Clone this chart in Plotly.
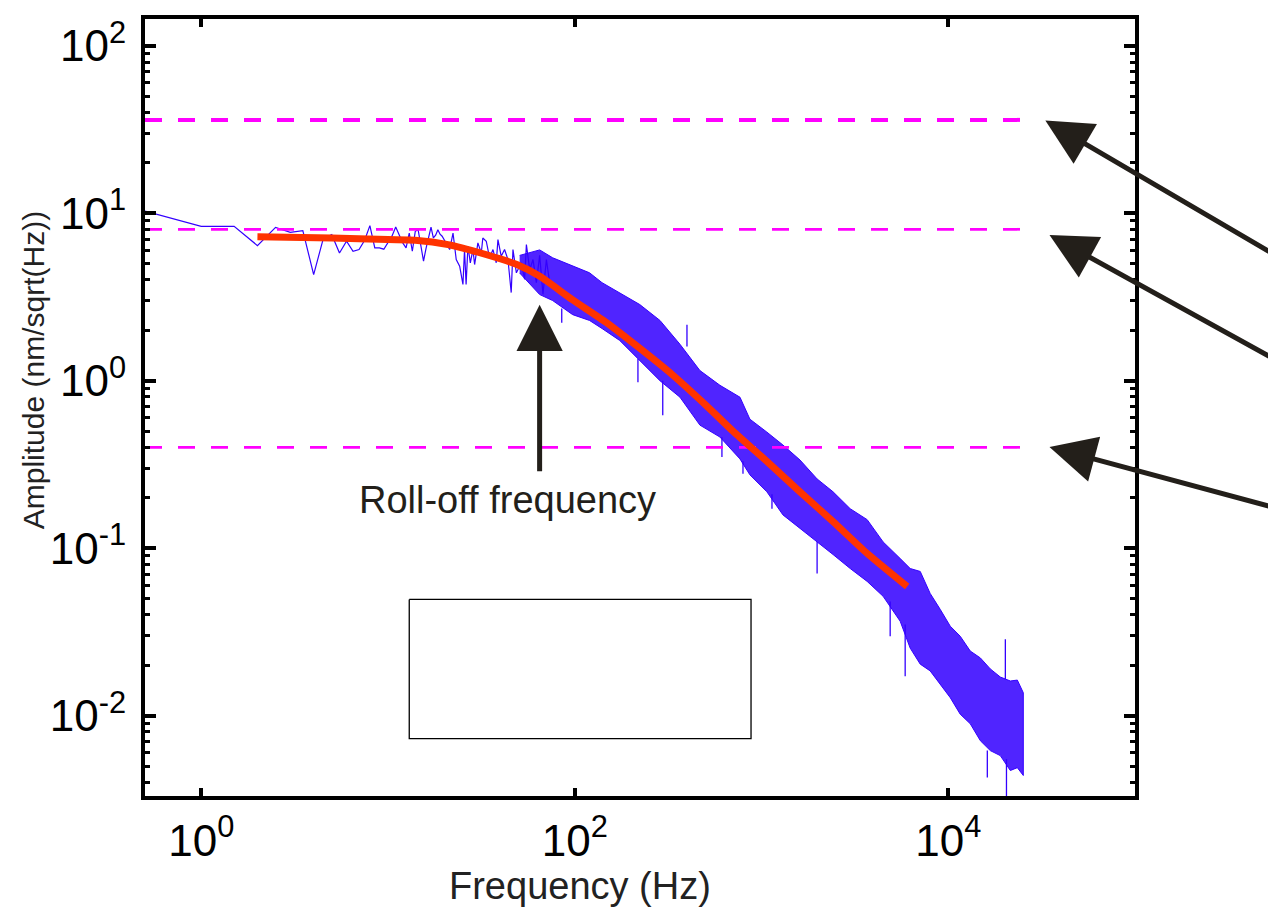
import plotly.graph_objects as go

# ---------------- data ----------------
# resolved low-frequency part of the measured amplitude spectrum
spec_f = [0.5, 1.0, 1.5, 2.0, 2.5, 3.0, 3.5, 4.0, 4.5, 5.0, 5.5, 6.0, 6.5, 7.0, 7.5, 8.0, 8.5, 9.0, 9.5, 10.0,
          10.5, 11.0, 11.5, 12.0, 12.5, 13.0, 13.5, 14.0, 14.5, 15.0, 15.5, 16.0, 16.5, 17.0, 17.5, 18.0, 18.5, 19.0, 19.5,
          20.5, 21.4, 22.3, 23.2, 24.2, 25.2, 25.7, 26.2, 26.8, 27.6, 28.5, 29.1, 30.3, 31.6, 32.2, 33.6, 35.0, 36.5,
          38.0, 38.8, 40.4, 42.1, 43.9, 45.7, 46.7, 48.7, 51.8, 53.9, 55.1, 57.4, 59.8, 62.3, 64.9, 67.6, 70.5, 73.4]
spec_amp = [10.3, 8.36, 8.36, 6.41, 8.24, 7.69, 7.88, 4.30, 7.03, 7.45, 5.79, 6.81, 5.93, 6.07, 6.90, 8.43, 6.21, 6.21, 6.10, 6.65,
            7.3, 8.27, 7.4, 6.65, 6.21, 7.62, 5.93, 7.8, 7.98, 6.36, 5.18, 6.2, 7.29, 8.27, 7.12, 7.4, 7.98, 7.5, 7.29,
            6.65, 6.07, 7.62, 5.29, 4.83, 3.76, 6.07, 3.76, 6.36, 5.06, 6.07, 4.94, 6.65, 5.79, 7.12, 6.81, 5.42, 6.07,
            5.06, 6.96, 5.54, 6.07, 5.29, 3.36, 6.07, 4.41, 5.06, 4.03, 6.5, 4.6, 5.29, 3.85, 5.6, 3.28, 5.29, 3.85]

# dense part of the spectrum: upper / lower envelope of the noise band
band_f = [50.7, 64.9, 76.2, 97.5, 120, 140, 174, 223, 286, 366, 468, 599, 767, 867, 1069, 1303, 1608,
          1985, 2417, 2985, 3680, 4479, 5530, 6256, 7079, 8000, 9057, 10250, 11590, 13120, 14860, 16800,
          19000, 21500, 23440, 25230]
band_hi = [5.6, 6.04, 5.42, 4.85, 4.41, 3.85, 3.35, 2.85, 2.29, 1.65, 1.15, 0.939, 0.797, 0.589, 0.493,
           0.413, 0.336, 0.259, 0.217, 0.172, 0.148, 0.109, 0.0867, 0.0756, 0.0726, 0.0537, 0.0431, 0.0342,
           0.0298, 0.0243, 0.0221, 0.0190, 0.0170, 0.0161, 0.0163, 0.0137]
band_lo = [4.4, 3.27, 3.01, 2.48, 2.29, 2.05, 1.74, 1.32, 1.0, 0.797, 0.543, 0.461, 0.341, 0.274, 0.217,
           0.158, 0.131, 0.109, 0.0916, 0.0756, 0.0633, 0.0516, 0.0366, 0.0253, 0.0203, 0.0185, 0.0155, 0.0128,
           0.0102, 0.00894, 0.00708, 0.00618, 0.00577, 0.00470, 0.00489, 0.00439]

# isolated spikes sticking out of the band
spike_f = [85.2, 218, 296, 399, 614, 796, 1138, 1985, 4887, 5880, 16190, 20220, 20500]
spike_from = [2.7, 1.35, 1.0, 1.6, 0.46, 0.33, 0.21, 0.109, 0.048, 0.035, 0.0062, 0.0165, 0.0055]
spike_to = [2.22, 0.978, 0.622, 2.16, 0.350, 0.278, 0.172, 0.0706, 0.0298, 0.0172, 0.00427, 0.0286, 0.0033]

# Lorentzian fit (red)
fit_f = [2, 5, 10, 14, 21, 32, 49, 65, 97, 148, 223, 335, 500, 703, 1069, 1608, 2417, 3680, 6030]
fit_amp = [7.25, 7.12, 6.96, 6.9, 6.5, 5.75, 4.94, 4.2, 3.05, 2.22, 1.56, 1.08, 0.72, 0.50, 0.33,
           0.217, 0.144, 0.093, 0.059]

# horizontal reference levels (magenta dashed)
level_amp = [36.1, 8.02, 0.40]
level_width = [4, 2.7, 2.7]
level_f_span = [0.5, 25000]

# empty legend box
legend_box_f = [13.0, 879.0]
legend_box_amp = [0.00728, 0.0494]

x_tick_vals = [1, 100, 10000]
x_tick_text = ["10<sup>0</sup>", "10<sup>2</sup>", "10<sup>4</sup>"]
y_tick_vals = [0.01, 0.1, 1, 10, 100]
y_tick_text = ["10<sup>-2</sup>", "10<sup>-1</sup>", "10<sup>0</sup>", "10<sup>1</sup>", "10<sup>2</sup>"]
y_minor_vals = [k * 10.0 ** e for e in range(-3, 3) for k in range(2, 10)]

BLUE = "#3300ff"
RED = "#ff3300"
MAGENTA = "#ff00ff"
ARROW = "#231f1a"
FONT = "Liberation Sans, Arial, sans-serif"

fig = go.Figure()

# noise band
fig.add_trace(go.Scatter(
    x=band_f + band_f[::-1], y=band_hi + band_lo[::-1],
    mode="lines", fill="toself", fillcolor="rgba(51,0,255,0.86)",
    line=dict(color=BLUE, width=1), hoverinfo="skip"))

# resolved spectrum
fig.add_trace(go.Scatter(x=spec_f, y=spec_amp, mode="lines",
                         line=dict(color=BLUE, width=1.2), hoverinfo="skip"))

# spikes
sx, sy = [], []
for f, a, b in zip(spike_f, spike_from, spike_to):
    sx += [f, f, None]
    sy += [a, b, None]
fig.add_trace(go.Scatter(x=sx, y=sy, mode="lines", line=dict(color=BLUE, width=1.3),
                         hoverinfo="skip"))

# magenta levels
for amp, w in zip(level_amp, level_width):
    fig.add_trace(go.Scatter(x=level_f_span, y=[amp, amp], mode="lines",
                             line=dict(color=MAGENTA, width=w, dash="17px,16px"),
                             hoverinfo="skip"))

# fit
fig.add_trace(go.Scatter(x=fit_f, y=fit_amp, mode="lines", line_shape="spline",
                         line=dict(color=RED, width=7, smoothing=0.6), hoverinfo="skip"))

# legend box
bx = [legend_box_f[0], legend_box_f[1], legend_box_f[1], legend_box_f[0], legend_box_f[0]]
by = [legend_box_amp[1], legend_box_amp[1], legend_box_amp[0], legend_box_amp[0], legend_box_amp[1]]
fig.add_trace(go.Scatter(x=bx, y=by, mode="lines", line=dict(color="black", width=1.3),
                         hoverinfo="skip"))

# arrows (head positions in log10 units, as plotly requires for log axes)
arrows = [
    (4.520, 1.554, 240, 135),
    (4.542, 0.870, 240, 125),
    (4.542, -0.396, 240, 61),
    (1.812, 0.454, 0, 168),
]
for x, y, ax, ay in arrows:
    fig.add_annotation(x=x, y=y, xref="x", yref="y", ax=ax, ay=ay, text="",
                       showarrow=True, arrowhead=2, arrowwidth=5, arrowsize=1.85,
                       arrowcolor=ARROW, font=dict(size=1))

fig.add_annotation(x=1.641, y=-0.711, xref="x", yref="y", text="Roll-off frequency",
                   showarrow=False, font=dict(family=FONT, size=38, color=ARROW))

# axis titles
fig.add_annotation(x=0.4394, y=-0.1152, xref="paper", yref="paper", text="Frequency (Hz)",
                   showarrow=False, xanchor="center", yanchor="middle",
                   font=dict(family=FONT, size=38, color="#222222"))
fig.add_annotation(x=-0.1131, y=0.548, xref="paper", yref="paper", text="Amplitude (nm/sqrt(Hz))",
                   showarrow=False, xanchor="center", yanchor="middle", textangle=-90,
                   font=dict(family=FONT, size=30, color="#222222"))

# the page body has an 8px margin: shrink the figure and margins to compensate
fig.update_layout(
    width=1268, height=907,
    margin=dict(l=137, r=141, t=7, b=119),
    paper_bgcolor="white", plot_bgcolor="white",
    showlegend=False,
    font=dict(family=FONT, color="black"),
    xaxis=dict(type="log", range=[-0.30103, 5.0], showgrid=False, zeroline=False,
               tickmode="array", tickvals=x_tick_vals, ticktext=x_tick_text,
               ticks="inside", ticklen=8, tickwidth=4, tickcolor="black",
               showline=True, linewidth=4, linecolor="black", mirror="ticks",
               tickfont=dict(family=FONT, size=44, color="black"), ticklabelstandoff=3),
    yaxis=dict(type="log", range=[-2.48, 2.16], showgrid=False, zeroline=False,
               tickmode="array", tickvals=y_tick_vals, ticktext=y_tick_text,
               ticks="inside", ticklen=11, tickwidth=3.5, tickcolor="black",
               minor=dict(tickmode="array", tickvals=y_minor_vals, ticks="inside",
                          ticklen=5, tickwidth=2.5, tickcolor="black", showgrid=False),
               showline=True, linewidth=4, linecolor="black", mirror="ticks",
               tickfont=dict(family=FONT, size=44, color="black"), ticklabelstandoff=6),
)

fig.write_html("out.html")
